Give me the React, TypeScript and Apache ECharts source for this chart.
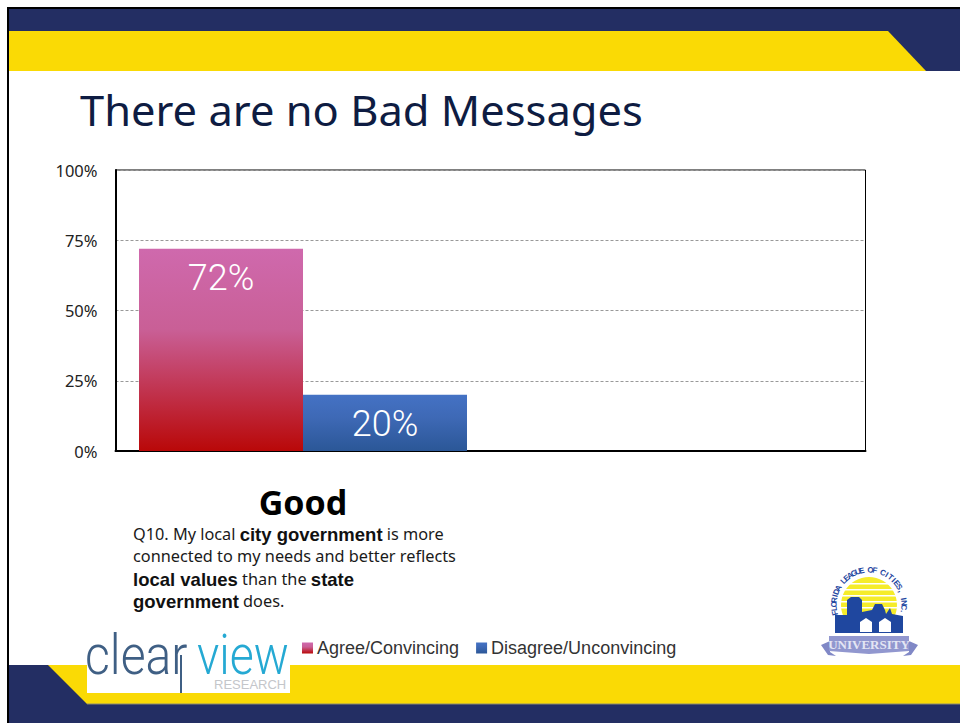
import React, { useEffect, useRef } from "react";
import * as echarts from "echarts";

const categories = ["Good", ""];
const agreeValues = [72, null];
const disagreeValues = [20, null];
const seriesNames = ["Agree/Convincing", "Disagree/Unconvincing"];
const yTicks = { min: 0, max: 100, interval: 25 };
const slideTitle = "There are no Bad Messages";
const arcLetters = "FLORIDA LEAGUE OF CITIES, INC.";

const NAVY = "#232E63";
const YELLOW = "#FADA05";
const LOGO_BLUE = "#1F479F";

const grad = (top: string, mid: string, bottom: string) =>
  new echarts.graphic.LinearGradient(0, 0, 0, 1, [
    { offset: 0, color: top },
    { offset: 0.4, color: mid },
    { offset: 1, color: bottom },
  ]);

function arcText() {
  const cx = 869, cy = 605, r = 35;
  const start = -103, end = 101;
  const n = arcLetters.length;
  return arcLetters.split("").map((ch, i) => {
    const deg = start + ((end - start) * i) / (n - 1);
    const a = (deg * Math.PI) / 180;
    return {
      type: "text", z: 3,
      x: cx + r * Math.sin(a), y: cy - r * Math.cos(a), rotation: -a,
      style: { text: ch, fill: LOGO_BLUE, font: "bold 8px 'Liberation Sans'", align: "center", verticalAlign: "middle" },
    };
  });
}

function sunStripes() {
  const out: any[] = [];
  [583, 589, 595, 601, 607].forEach((y) => {
    out.push({ type: "rect", z: 2, shape: { x: 838, y, width: 62, height: 1.6 }, style: { fill: "#fff" } });
  });
  return out;
}

const q = (text: string, y: number) => ({
  type: "text", z: 3, x: 133, y,
  style: {
    text,
    verticalAlign: "middle",
    rich: {
      r: { fontFamily: "'Noto Sans'", fontSize: 16.3, fill: "#1a1a1a" },
      b: { fontFamily: "'Liberation Sans'", fontWeight: "bold", fontSize: 18.5, fill: "#111" },
    },
  },
});

const graphics: any[] = [
  // top band
  { type: "rect", z: 0, shape: { x: 7, y: 7, width: 953, height: 2 }, style: { fill: "#000" } },
  { type: "rect", z: 0, shape: { x: 7, y: 7, width: 2, height: 716 }, style: { fill: "#000" } },
  { type: "rect", z: 0, shape: { x: 9, y: 9, width: 951, height: 62 }, style: { fill: NAVY } },
  { type: "polygon", z: 0, shape: { points: [[9, 31], [888, 31], [926, 71], [9, 71]] }, style: { fill: YELLOW } },
  // bottom band
  { type: "rect", z: 0, shape: { x: 48, y: 665, width: 912, height: 39 }, style: { fill: YELLOW } },
  { type: "polygon", z: 0, shape: { points: [[9, 665], [48, 665], [87, 704], [9, 704]] }, style: { fill: NAVY } },
  { type: "rect", z: 0, shape: { x: 9, y: 704, width: 951, height: 19 }, style: { fill: NAVY } },
  { type: "rect", z: 0, shape: { x: 87, y: 703.5, width: 873, height: 1 }, style: { fill: "#8b8a70" } },
  // title
  { type: "text", z: 3, x: 80, y: 110, scaleX: 1.035, style: { text: slideTitle, fill: "#0E1C42", font: "42px 'Noto Sans'", verticalAlign: "middle" } },
  // question
  q("{r|Q10. My local }{b|city government}{r| is more}", 534),
  q("{r|connected to my needs and better reflects}", 556),
  q("{b|local values}{r| than the }{b|state}", 579),
  q("{b|government}{r| does.}", 601),
  // clearview logo
  { type: "rect", z: 1, shape: { x: 87, y: 633, width: 203, height: 60 }, style: { fill: "#fff" } },
  { type: "text", z: 2, x: 85, y: 655, scaleX: 0.86, style: { text: "clear", fill: "#3F5F84", font: "300 56px Roboto", verticalAlign: "middle" } },
  { type: "text", z: 2, x: 197, y: 655, scaleX: 0.83, style: { text: "view", fill: "#25A9D3", font: "300 56px Roboto", verticalAlign: "middle" } },
  { type: "rect", z: 2, shape: { x: 180, y: 655, width: 2, height: 38 }, style: { fill: "#3F5F84" } },
  { type: "text", z: 2, x: 214, y: 684, style: { text: "RESEARCH", fill: "#C4C6CA", font: "13px 'Liberation Sans'", verticalAlign: "middle" } },
  // league logo
  { type: "circle", z: 1, shape: { cx: 869, cy: 605, r: 28 }, style: { fill: "#F5EC2A" } },
  ...sunStripes(),
  { type: "polygon", z: 2, shape: { points: [[835, 633], [835, 615], [847, 615], [847, 600], [851, 597], [859, 597], [862, 600], [862, 612], [872, 610], [875, 604], [882, 604], [885, 610], [886, 614], [890, 608], [892, 614], [903, 616], [903, 633]] }, style: { fill: LOGO_BLUE } },
  { type: "polygon", z: 3, shape: { points: [[860, 622], [866, 618], [872, 622], [872, 632], [860, 632]] }, style: { fill: "#fff" } },
  { type: "polygon", z: 3, shape: { points: [[879, 622], [885, 618], [891, 622], [891, 632], [879, 632]] }, style: { fill: "#fff" } },
  { type: "polygon", z: 2, shape: { points: [[821, 645], [830, 641], [830, 652], [836, 656], [828, 655]] }, style: { fill: "#8088C6" } },
  { type: "polygon", z: 2, shape: { points: [[918, 645], [909, 641], [909, 652], [903, 656], [911, 655]] }, style: { fill: "#8088C6" } },
  { type: "polygon", z: 2, shape: { points: [[829, 636], [909, 636], [909, 651], [869, 654], [829, 651]] }, style: { fill: "#9197CF" } },
  { type: "text", z: 3, x: 869, y: 644, style: { text: "UNIVERSITY", fill: "#E4E6F4", font: "bold 13px 'Liberation Serif'", align: "center", verticalAlign: "middle" } },
  ...arcText(),
];

export default function App() {
  const ref = useRef<HTMLDivElement>(null);
  useEffect(() => {
    const chart = echarts.init(ref.current!, undefined, { renderer: "svg" });
    const barLabel = {
      show: true, position: "insideTop", distance: 11, formatter: "{c}%",
      color: "#fff", fontSize: 36, fontWeight: 300, fontFamily: "Roboto",
    };
    chart.setOption({
      animation: false,
      backgroundColor: "#fff",
      grid: { left: 115.5, right: 94.5, top: 170, bottom: 272, show: true, borderColor: "#000", borderWidth: 1 },
      legend: {
        left: 298, top: 639, itemWidth: 11, itemHeight: 11, itemGap: 17, padding: [0, 0, 0, 4],
        icon: "rect", data: seriesNames,
        textStyle: { fontSize: 18, fontFamily: "'Liberation Sans'", color: "#333", padding: [0, 0, 0, -1] },
      },
      xAxis: {
        type: "category", data: categories,
        axisTick: { show: false },
        axisLine: { lineStyle: { color: "#000", width: 2 } },
        axisLabel: { fontSize: 34, fontWeight: "bold", fontFamily: "'Noto Sans'", color: "#000", margin: 34, interval: 0 },
      },
      yAxis: {
        type: "value", ...yTicks,
        axisLine: { show: true, lineStyle: { color: "#000", width: 2 } },
        axisTick: { show: false },
        axisLabel: { formatter: "{value}%", fontSize: 16.5, fontFamily: "'Noto Sans'", color: "#222", margin: 18, padding: [0, 0, 2, 0] },
        splitLine: { show: true, lineStyle: { color: "#999", type: [3, 2], width: 1 } },
      },
      series: [
        {
          name: seriesNames[0], type: "bar", data: agreeValues, barWidth: 164, barGap: 0,
          itemStyle: { color: grad("#CF69AD", "#C95F96", "#B90808") }, label: barLabel,
        },
        {
          name: seriesNames[1], type: "bar", data: disagreeValues, barWidth: 164, barGap: 0,
          itemStyle: { color: grad("#4472C4", "#3E69B6", "#2B5797") }, label: barLabel,
        },
      ],
      graphic: { elements: graphics },
    });
    return () => chart.dispose();
  }, []);
  return <div ref={ref} style={{ position: "absolute", left: 0, top: 0, width: 960, height: 723 }} />;
}
